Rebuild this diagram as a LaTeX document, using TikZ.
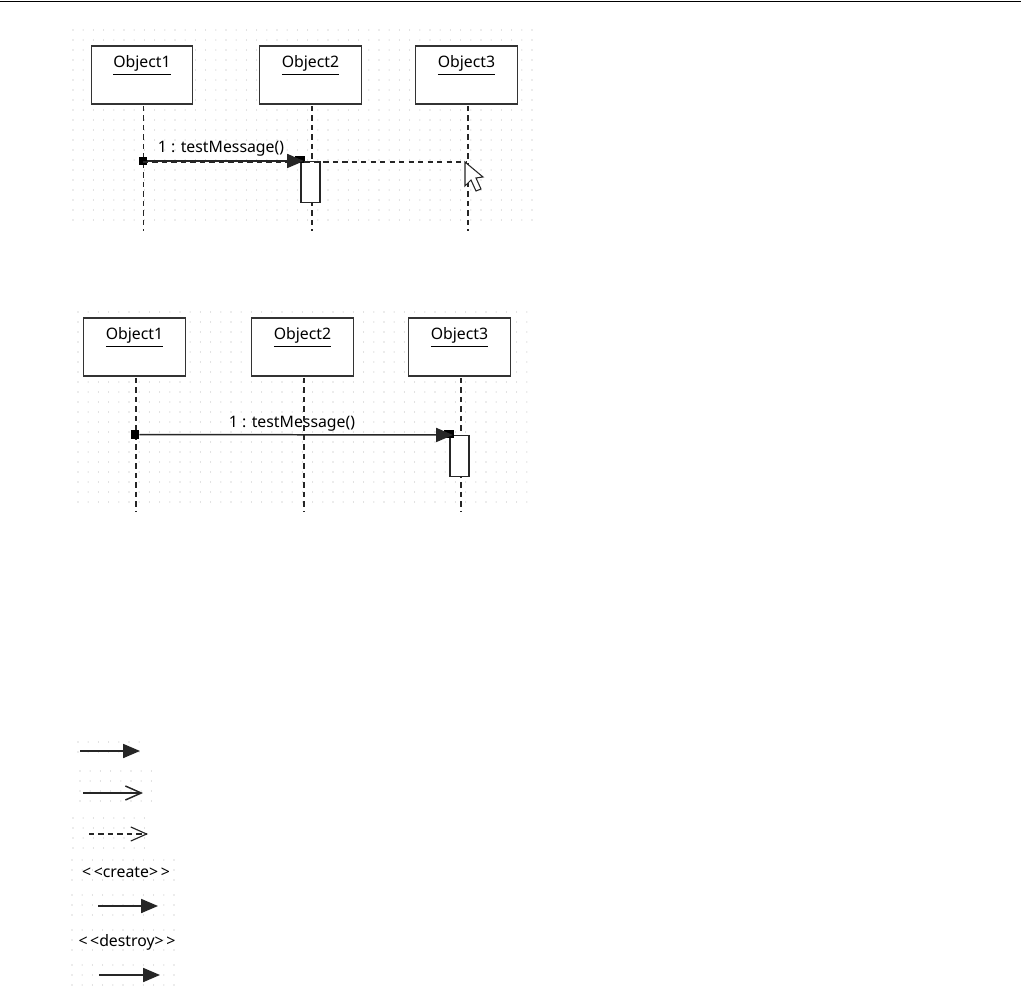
\documentclass[tikz,border=0pt]{standalone}
\usepackage{fontspec}
\setmainfont{Noto Sans}
\usetikzlibrary{positioning, arrows.meta}

\tikzset{
    griddot/.style={fill=black!32},
    objbox/.style={draw=black!80, line width=0.8pt, fill=white, minimum width=57.8pt, minimum height=32.9pt, inner sep=0pt},
    objname/.style={font=\fontsize{9}{11}\selectfont, inner sep=0pt},
    lifeline/.style={draw=black!85, line width=0.8pt, dashed, dash pattern=on 3pt off 2.4pt},
    msgline/.style={draw=black!85, line width=0.85pt},
    filledtip/.style={-{Triangle[length=9.6pt, width=8pt]}},
    opentip/.style={-{Straight Barb[length=9pt, width=8pt]}},
    endsquare/.style={fill=black, minimum size=4.6pt, inner sep=0pt},
    actbar/.style={draw=black!85, line width=0.8pt, fill=white, minimum width=10.6pt, minimum height=23.2pt, inner sep=0pt, anchor=north},
}

\begin{document}
\begin{tikzpicture}[x=0.02cm, y=-0.02cm]
    \useasboundingbox (0,0) rectangle (1021,989);
    \draw[black, line width=0.8pt] (0,1.5) -- (1021,1.5);
    \foreach \xa/\ya/\nx/\ny in {
        73/30/45/19, 78/312/44/19,
        78/742/6/1, 80/771/7/3, 73/818/7/3,
        72/860/10/2, 72/895/10/2, 72/930/10/2, 72/965/10/2}
    {
        \foreach \i in {0,...,\nx}
            \foreach \j in {0,...,\ny}
                \fill[griddot] (\xa+10.2*\i,\ya+10*\j) circle (0.3pt);
    }
    % first picture
    \foreach \n/\t/\cx/\lx in {
        a/Object1/142/143.5,
        b/Object2/310.5/312,
        c/Object3/466.5/468}
    {
        \node[objbox] (box\n) at (\cx,75) {};
        \node[objname, below=5.6pt of box\n.north] (name\n) {\underline{\t}};
        \coordinate (top\n) at (\lx,106);
        \coordinate (end\n) at (\lx,231);
        \draw[lifeline] (top\n) -- (end\n);
    }
    \node[actbar] (barb) at (310.5,161) {};
    \node[endsquare] (srca) at (143,161) {};
    \node[endsquare, minimum width=5.4pt, minimum height=3.6pt] (dstb) at (300,159.5) {};
    \coordinate (tipb) at (304,161);
    \coordinate (ghosta) at (143,162);
    \coordinate (ghostb) at (467,162);
    \draw[msgline, filledtip] (srca) -- (tipb);
    \draw[lifeline, line width=0.65pt] (ghosta) -- (ghostb);
    \node[objname] (msga) at (221,148.5) {1 : testMessage()};
    \filldraw[draw=black!85, fill=white, line width=0.6pt] (465,162) -- (465,186) -- (471,180) -- (476,191) -- (481,189) -- (476,178) -- (483,177) -- cycle;
    % second picture
    \node[objname] (msgd) at (292,423.5) {1 : testMessage()};
    \foreach \n/\t/\cx/\lx in {
        d/Object1/134.5/136,
        e/Object2/302.5/304,
        f/Object3/459.5/461}
    {
        \node[objbox] (box\n) at (\cx,347) {};
        \node[objname, below=5.6pt of box\n.north] (name\n) {\underline{\t}};
        \coordinate (top\n) at (\lx,378);
        \coordinate (end\n) at (\lx,511);
        \draw[lifeline] (top\n) -- (end\n);
    }
    \node[actbar] (barf) at (459.5,435) {};
    \node[endsquare] (srcd) at (135,434.5) {};
    \node[endsquare, minimum width=5.4pt, minimum height=4pt] (dstf) at (449,434) {};
    \coordinate (tipf) at (453,435);
    \draw[msgline, filledtip] (srcd) -- (tipf);
    % arrow kinds
    \foreach \n/\xa/\xb/\y/\kind in {
        g/80/140/751/filledtip,
        h/83/143/793/opentip,
        j/98/158/906/filledtip,
        k/99/160/975/filledtip}
    {
        \coordinate (from\n) at (\xa,\y);
        \coordinate (to\n) at (\xb,\y);
        \draw[msgline, \kind] (from\n) -- (to\n);
    }
    \coordinate (fromi) at (89,834);
    \coordinate (toi) at (148,834);
    \draw[lifeline, opentip, line width=0.65pt] (fromi) -- (toi);
    \node[objname] (create) at (126,872) {<\kern1.5pt<create>\kern1.5pt>};
    \node[objname] (destroy) at (127,942) {<\kern1.5pt<destroy>\kern1.5pt>};
\end{tikzpicture}
\end{document}
